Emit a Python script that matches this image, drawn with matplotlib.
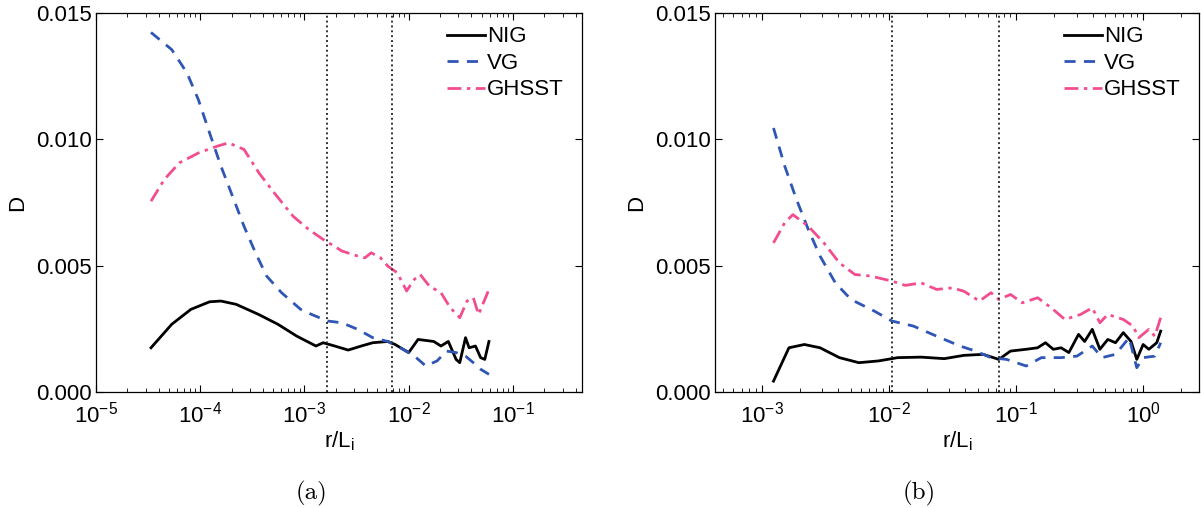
import matplotlib
matplotlib.use("Agg")
from matplotlib import pyplot as plt
import numpy as np

plt.rcParams['font.family'] = ['Liberation Sans', 'DejaVu Sans']
plt.rcParams['mathtext.fontset'] = 'custom'
plt.rcParams['mathtext.rm'] = 'Liberation Sans'
plt.rcParams['mathtext.it'] = 'Liberation Sans:italic'

# panel (a)
a_nig_r = [3.37e-5, 5.33e-5, 8.13e-5, 1.23e-4, 1.58e-4, 2.21e-4, 3.63e-4, 5.56e-4, 8.45e-4, 1.29e-3,
           1.51e-3, 1.95e-3, 2.63e-3, 3.51e-3, 4.52e-3, 6.31e-3, 7.41e-3, 0.0100, 0.0123, 0.0174,
           0.0204, 0.0240, 0.0285, 0.0309, 0.0351, 0.0380, 0.0437, 0.0490, 0.0537, 0.0589]
a_nig_d = [0.00175, 0.00268, 0.00327, 0.00357, 0.00360, 0.00347, 0.00307, 0.00268, 0.00221, 0.00182,
           0.00195, 0.00182, 0.00166, 0.00182, 0.00195, 0.00200, 0.00188, 0.00156, 0.00208, 0.00200,
           0.00182, 0.00200, 0.00129, 0.00116, 0.00215, 0.00175, 0.00182, 0.00136, 0.00129, 0.00200]

a_vg_r = [3.37e-5, 5.33e-5, 7.46e-5, 9.6e-5, 1.23e-4, 1.58e-4, 2.04e-4, 2.63e-4, 3.39e-4, 4.33e-4,
          6.03e-4, 9.2e-4, 1.17e-3, 1.66e-3, 2.29e-3, 3.24e-3, 4.52e-3, 6.31e-3, 8.81e-3, 0.01135,
          0.0146, 0.0187, 0.0231, 0.0285, 0.0351, 0.0417, 0.0490, 0.0589]
a_vg_d = [0.01423, 0.01355, 0.01263, 0.01157, 0.01025, 0.00894, 0.00775, 0.00656, 0.00551, 0.00459,
          0.00393, 0.00327, 0.00307, 0.00281, 0.00274, 0.00248, 0.00215, 0.00200, 0.00169, 0.00142,
          0.00103, 0.00123, 0.00162, 0.00156, 0.00142, 0.00116, 0.00090, 0.00070]

a_gh_r = [3.37e-5, 4.52e-5, 6.31e-5, 9.6e-5, 1.46e-4, 1.87e-4, 2.63e-4, 3.66e-4, 5.13e-4, 7.76e-4,
          1.10e-3, 1.51e-3, 2.29e-3, 3.24e-3, 3.80e-3, 4.37e-3, 5.37e-3, 6.31e-3, 7.76e-3, 9.55e-3,
          0.01135, 0.0129, 0.0158, 0.0204, 0.0251, 0.0309, 0.0363, 0.0417, 0.0468, 0.0537, 0.0589]
a_gh_d = [0.00755, 0.00841, 0.00907, 0.00946, 0.00973, 0.00986, 0.00960, 0.00867, 0.00788, 0.00696,
          0.00643, 0.00604, 0.00558, 0.00538, 0.00531, 0.00551, 0.00531, 0.00498, 0.00472, 0.00400,
          0.00446, 0.00465, 0.00419, 0.00393, 0.00333, 0.00294, 0.00360, 0.00373, 0.00307, 0.00366, 0.00406]

a_marks = [1.66e-3, 6.9e-3]

# panel (b)
b_nig_r = [1.24e-3, 1.64e-3, 2.17e-3, 2.88e-3, 4.09e-3, 5.82e-3, 8.32e-3, 0.01175, 0.01795, 0.02735,
           0.0389, 0.0553, 0.0733, 0.0906, 0.1202, 0.1479, 0.1706, 0.1968, 0.2265, 0.2606,
           0.3105, 0.3467, 0.3981, 0.4571, 0.5272, 0.6067, 0.6982, 0.8035, 0.8913, 1.0,
           1.109, 1.279, 1.374]
b_nig_d = [0.00043, 0.00175, 0.00188, 0.00175, 0.00136, 0.00116, 0.00123, 0.00136, 0.00138, 0.00132,
           0.00145, 0.00149, 0.00129, 0.00162, 0.00169, 0.00175, 0.00195, 0.00169, 0.00175, 0.00156,
           0.00228, 0.00200, 0.00248, 0.00169, 0.00208, 0.00195, 0.00235, 0.00200, 0.00129, 0.00188,
           0.00169, 0.00195, 0.00241]

b_vg_r = [1.24e-3, 1.52e-3, 1.88e-3, 2.33e-3, 2.88e-3, 3.80e-3, 5.05e-3, 7.71e-3, 0.01057, 0.0156,
          0.02377, 0.0363, 0.0481, 0.0637, 0.0845, 0.1202, 0.1585, 0.2265, 0.3020, 0.3981,
          0.4742, 0.6067, 0.7762, 0.8913, 1.0, 1.236, 1.374]
b_vg_d = [0.01045, 0.00894, 0.00762, 0.00643, 0.00538, 0.00432, 0.00366, 0.00320, 0.00281, 0.00261,
          0.00221, 0.00182, 0.00162, 0.00136, 0.00129, 0.00103, 0.00136, 0.00136, 0.00142, 0.00182,
          0.00136, 0.00149, 0.00215, 0.00096, 0.00136, 0.00142, 0.00195]

b_gh_r = [1.24e-3, 1.52e-3, 1.76e-3, 2.33e-3, 3.09e-3, 4.09e-3, 5.42e-3, 7.18e-3, 0.01057, 0.01349,
          0.01795, 0.02377, 0.03162, 0.0389, 0.05164, 0.0637, 0.0733, 0.0906, 0.1122, 0.1479,
          0.1897, 0.2427, 0.3221, 0.3981, 0.4571, 0.5272, 0.6982, 0.8318, 0.9247, 1.109,
          1.236, 1.374]
b_gh_d = [0.0059, 0.0067, 0.00702, 0.00656, 0.0059, 0.00511, 0.00465, 0.00459, 0.00439, 0.00422,
          0.00432, 0.00406, 0.00412, 0.00399, 0.0036, 0.00393, 0.00366, 0.00386, 0.00353, 0.00373,
          0.00333, 0.00287, 0.00307, 0.00333, 0.00274, 0.00307, 0.00287, 0.00261, 0.00215, 0.00248,
          0.00221, 0.00294]

b_marks = [0.0106, 0.0733]

y_ticks = [0.0, 0.005, 0.010, 0.015]
y_labels = ['0.000', '0.005', '0.010', '0.015']

blue = '#2f55b5'
pink = '#f24d8f'
fs = 16


def draw_panel(ax, nig, vg, gh, marks, xlim):
    ax.plot(nig[0], nig[1], color='black', lw=2.0, label='NIG')
    ax.plot(vg[0], vg[1], color=blue, lw=2.0, ls=(0, (4, 3)), label='VG')
    ax.plot(gh[0], gh[1], color=pink, lw=2.0, ls=(0, (5, 2, 1.2, 2)), label='GHSST')
    for m in marks:
        ax.axvline(m, color='#333333', lw=1.4, ls=(0, (1, 1.5)))
    ax.set_xscale('log')
    ax.set_xlim(xlim)
    ax.set_ylim(0, 0.015)
    ax.set_yticks(y_ticks)
    ax.set_yticklabels(y_labels)
    ax.tick_params(which='both', direction='in', top=True, right=True, labelsize=fs)
    ax.tick_params(axis='x', which='both', pad=7)
    ax.tick_params(axis='y', which='both', pad=3)
    ax.tick_params(which='major', length=5)
    ax.tick_params(which='minor', length=3)
    for s in ax.spines.values():
        s.set_linewidth(0.9)
    ax.set_ylabel('D', fontsize=fs, labelpad=6)
    ax.set_xlabel(r'r/L$_\mathregular{i}$', fontsize=fs, labelpad=1)
    ax.legend(loc='upper right', frameon=False, fontsize=fs, handlelength=1.7,
              handletextpad=0.1, labelspacing=0.25, borderaxespad=0.2,
              bbox_to_anchor=(0.99, 1.0))


fig = plt.figure(figsize=(12.01, 5.08), dpi=100)
ax1 = fig.add_axes([96 / 1201, 116 / 508, 486 / 1201, 379 / 508])
ax2 = fig.add_axes([715 / 1201, 116 / 508, 484 / 1201, 379 / 508])

draw_panel(ax1, (a_nig_r, a_nig_d), (a_vg_r, a_vg_d), (a_gh_r, a_gh_d), a_marks, (1e-5, 0.46))
draw_panel(ax2, (b_nig_r, b_nig_d), (b_vg_r, b_vg_d), (b_gh_r, b_gh_d), b_marks, (4.3e-4, 2.75))

fig.text(311 / 1201, 1 - 493 / 508, '(a)', ha='center', va='center', fontsize=18, fontname='cmr10')
fig.text(919 / 1201, 1 - 493 / 508, '(b)', ha='center', va='center', fontsize=18, fontname='cmr10')

fig.savefig('out.png', dpi=100)
